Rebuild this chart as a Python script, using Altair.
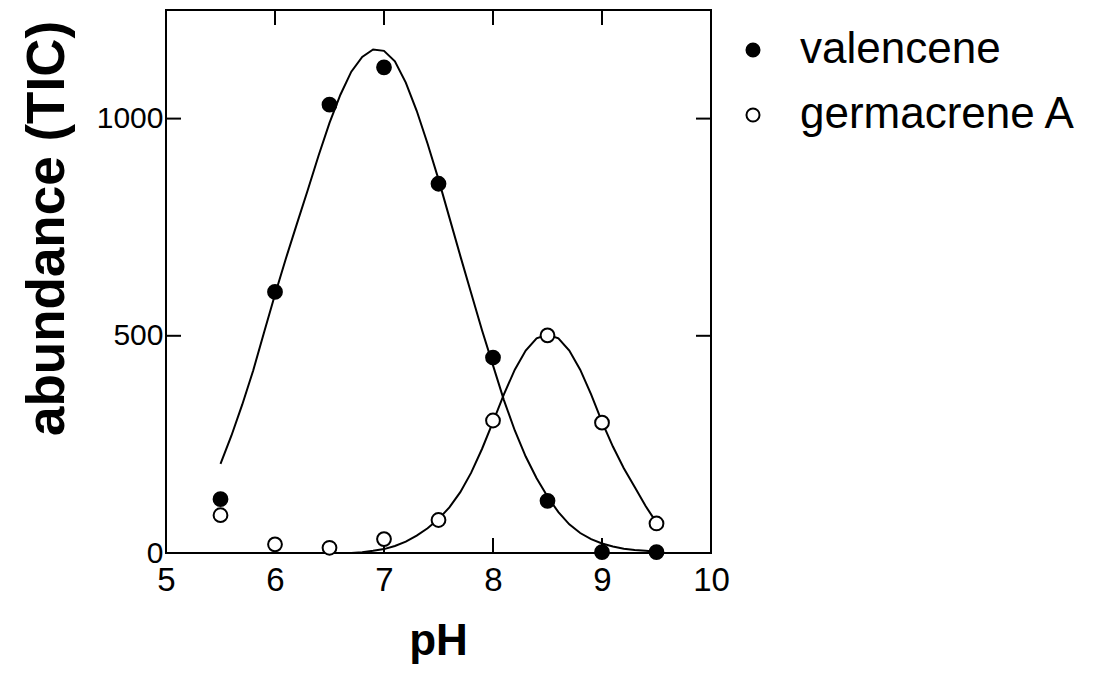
import altair as alt
import pandas as pd

# measured points
ph_points = [5.5, 6.0, 6.5, 7.0, 7.5, 8.0, 8.5, 9.0, 9.5]
valencene_points = [124, 601, 1032, 1118, 850, 450, 120, 2, 2]
germacrene_points = [87, 20, 12, 32, 76, 305, 501, 300, 68]

# fitted curves
valencene_curve_ph = [5.5, 5.6, 5.7, 5.8, 5.9, 6.0, 6.1, 6.2, 6.3, 6.4, 6.5, 6.6, 6.7, 6.8, 6.9,
                      7.0, 7.1, 7.2, 7.3, 7.4, 7.5, 7.6, 7.7, 7.8, 7.9, 8.0, 8.1, 8.2, 8.3, 8.4,
                      8.5, 8.6, 8.7, 8.8, 8.9, 9.0, 9.1, 9.2, 9.3, 9.4, 9.5]
valencene_curve = [205, 270, 342, 420, 508, 595, 678, 757, 835, 915, 990, 1055, 1108, 1142, 1159,
                   1156, 1132, 1083, 1018, 942, 860, 772, 684, 598, 512, 432, 352, 282, 222, 172,
                   130, 94, 66, 46, 32, 22, 15, 10, 7, 5, 3]
germacrene_curve_ph = [6.7, 6.8, 6.9, 7.0, 7.1, 7.2, 7.3, 7.4, 7.5, 7.6, 7.7, 7.8, 7.9, 8.0, 8.1,
                       8.2, 8.3, 8.4, 8.5, 8.6, 8.7, 8.8, 8.9, 9.0, 9.1, 9.2, 9.3, 9.4, 9.5]
germacrene_curve = [0, 2, 5, 9, 16, 26, 40, 57, 78, 105, 140, 185, 240, 302, 365,
                    422, 466, 494, 503, 494, 466, 422, 365, 302, 245, 195, 152, 108, 70]

series_names = ["valencene", "germacrene A"]
x_ticks = [5, 6, 7, 8, 9, 10]
y_ticks = [0, 500, 1000]
inner_x_ticks = [6, 7, 8, 9]
inner_y_ticks = [500, 1000]

points_df = pd.DataFrame({
    "pH": ph_points * 2,
    "abundance": valencene_points + germacrene_points,
    "series": [series_names[0]] * len(ph_points) + [series_names[1]] * len(ph_points),
})
curves_df = pd.DataFrame({
    "pH": valencene_curve_ph + germacrene_curve_ph,
    "abundance": valencene_curve + germacrene_curve,
    "series": [series_names[0]] * len(valencene_curve_ph) + [series_names[1]] * len(germacrene_curve_ph),
})
xt_df = pd.DataFrame({"pH": inner_x_ticks})
yt_df = pd.DataFrame({"abundance": inner_y_ticks})

W, H = 545, 543
FONT = "Liberation Sans"
TL = 15

xs = alt.Scale(domain=[5, 10], nice=False, zero=False)
ys = alt.Scale(domain=[0, 1250], nice=False, zero=True)

x_axis = alt.Axis(values=x_ticks, format="d", domain=False, ticks=False, grid=False,
                  labelFont=FONT, labelFontSize=33, labelColor="black", labelPadding=11,
                  labelFlush=False,
                  titleFont=FONT, titleFontSize=44, titleFontWeight="bold", titleColor="black",
                  titleX=272, titleY=88, titleBaseline="middle", titleAlign="center")
y_axis = alt.Axis(values=y_ticks, format="d", domain=False, ticks=False, grid=False,
                  labelFont=FONT, labelFontSize=30, labelColor="black", labelPadding=3,
                  labelFlush=False,
                  titleFont=FONT, titleFontSize=53, titleFontWeight="bold", titleColor="black",
                  titleX=-119, titleY=218, titleAngle=270, titleBaseline="middle", titleAlign="center")

def X():
    return alt.X("pH:Q", scale=xs, axis=x_axis, title="pH")

def Y():
    return alt.Y("abundance:Q", scale=ys, axis=y_axis, title="abundance (TIC)")

lines = alt.Chart(curves_df).mark_line(color="black", strokeWidth=2).encode(
    x=X(), y=Y(), detail="series:N")

points = alt.Chart(points_df).mark_point(
    shape="circle", filled=True, stroke="black", strokeWidth=2, size=190, opacity=1
).encode(
    x=X(), y=Y(),
    fill=alt.Fill("series:N",
                  scale=alt.Scale(domain=series_names, range=["black", "white"]),
                  sort=series_names,
                  legend=alt.Legend(title=None, orient="none", legendX=565, legendY=18,
                                    symbolType="circle", symbolSize=170,
                                    symbolStrokeColor="black", symbolStrokeWidth=2,
                                    labelFont=FONT, labelFontSize=44, labelColor="black",
                                    labelOffset=25, rowPadding=21, padding=0,
                                    labelLimit=400)),
)

top_ticks = alt.Chart(xt_df).mark_rule(color="black", strokeWidth=2).encode(
    x=X(), y=alt.value(0), y2=alt.value(TL))
bottom_ticks = alt.Chart(xt_df).mark_rule(color="black", strokeWidth=2).encode(
    x=X(), y=alt.value(H), y2=alt.value(H - TL))
left_ticks = alt.Chart(yt_df).mark_rule(color="black", strokeWidth=2).encode(
    y=Y(), x=alt.value(0), x2=alt.value(TL))
right_ticks = alt.Chart(yt_df).mark_rule(color="black", strokeWidth=2).encode(
    y=Y(), x=alt.value(W), x2=alt.value(W - TL))

chart = alt.layer(
    top_ticks, bottom_ticks, left_ticks, right_ticks, lines, points
).properties(
    width=W, height=H,
    autosize=alt.AutoSizeParams(type="none"),
    padding={"left": 158, "top": 2, "right": 375, "bottom": 116},
    background="white",
).configure_view(stroke="black", strokeWidth=2)

chart.save("out.html", embed_options={"renderer": "svg", "actions": False})
